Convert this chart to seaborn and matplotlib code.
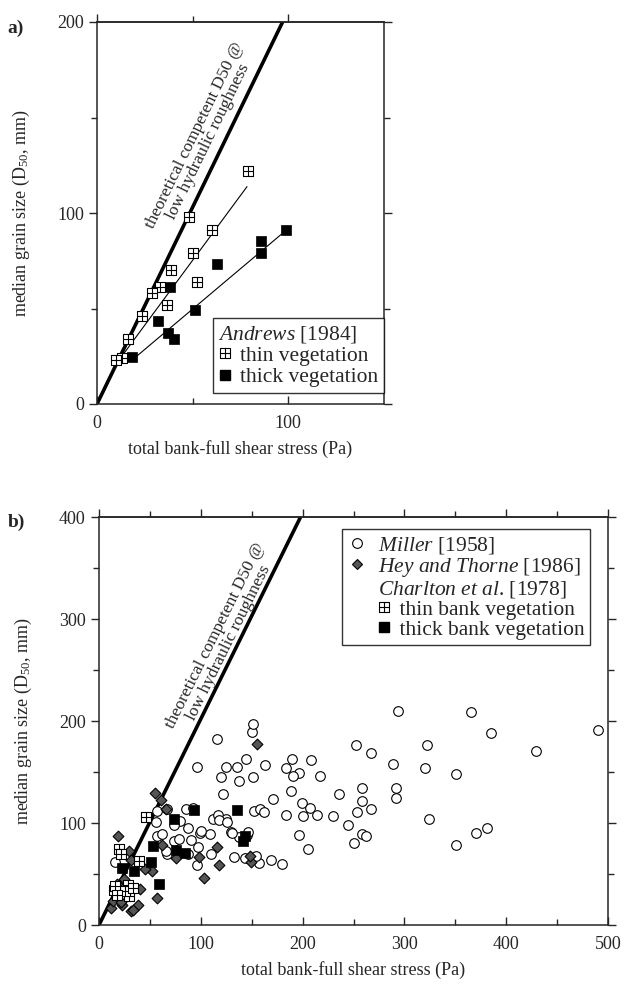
import numpy as np
import matplotlib
matplotlib.use("Agg")
import matplotlib.pyplot as plt
import seaborn as sns
from matplotlib.path import Path
from matplotlib.lines import Line2D
from matplotlib.legend_handler import HandlerLine2D

# ---------------- data ----------------
# panel a: Andrews [1984]
andrews_thin_x = [78.7, 47.9, 59.9, 50.0, 38.9, 32.8, 28.9, 52.3, 36.4, 23.5, 16.2, 13.2, 10.1]
andrews_thin_y = [122.1, 98.1, 91.1, 78.9, 70.2, 61.1, 58.0, 63.8, 51.9, 46.2, 34.0, 24.0, 23.2]
andrews_thick_x = [99.0, 85.5, 85.9, 62.5, 38.0, 51.2, 31.7, 37.3, 40.2, 18.5]
andrews_thick_y = [91.1, 85.4, 79.3, 73.2, 61.1, 49.1, 43.7, 37.1, 34.1, 24.4]
thin_fit_x = [10.1, 78.4]
thin_fit_y = [21.1, 113.8]
thick_fit_x = [20.6, 99.0]
thick_fit_y = [24.9, 91.1]
theory_a_x = [0, 97]
theory_a_y = [0, 200]

# panel b
miller_x = [96, 116, 150, 151, 125, 136, 144, 163, 120, 138, 151, 122, 171, 190, 208, 184, 196, 191,
            217, 189, 236, 258, 258, 267, 253, 199, 207, 184, 200, 214, 230, 245, 258, 196, 152, 158,
            162, 112, 117, 125, 99, 109, 130, 138, 145, 252, 267,
            294, 365, 385, 322, 429, 289, 320, 351, 292, 292, 324, 381, 370, 351, 490,
            250, 262, 205, 180, 157, 169, 133, 143, 154, 97, 110, 87, 67, 90, 74, 57, 80, 74,
            87, 100, 118, 126, 131, 146, 85, 57, 67, 92, 16, 96, 79, 66, 62, 56]
miller_y = [155, 182, 189, 197, 155, 155, 163, 157, 145, 141, 145, 128, 124, 163, 162, 154, 149, 146,
            146, 131, 128, 134, 122, 114, 111, 120, 115, 108, 107, 108, 107, 98, 89, 88, 112, 114,
            111, 104, 108, 104, 90, 89, 91, 86, 88, 176, 169,
            210, 209, 188, 176, 171, 158, 154, 148, 134, 125, 104, 95, 90, 78, 191,
            80, 87, 75, 60, 61, 64, 67, 66, 68, 76, 70, 70, 70, 83, 82, 87, 102, 98,
            95, 92, 103, 101, 90, 91, 114, 112, 114, 115, 62, 59, 84, 73, 89, 101]
hey_x = [155, 55, 61, 66, 19, 116, 118, 103, 57, 149, 148, 76, 98, 12, 23, 31, 38, 14, 52, 29, 31,
         62, 25, 40, 45, 18, 22, 33]
hey_y = [177, 129, 123, 114, 87, 76, 59, 46, 26, 62, 68, 66, 67, 17, 20, 14, 20, 24, 53, 73, 64,
         78, 45, 35, 55, 40, 23, 15]
charlton_thin_x = [46, 20, 22, 39, 15, 28, 29, 26, 16, 33, 18]
charlton_thin_y = [106, 75, 70, 63, 34, 39, 28, 33, 38, 36, 29]
charlton_thick_x = [93, 136, 74, 53, 76, 84, 51, 23, 34, 59, 143, 141]
charlton_thick_y = [113, 113, 104, 77, 74, 71, 62, 56, 53, 40, 87, 82]
theory_b_x = [0, 198]
theory_b_y = [0, 400]

# ---------------- style ----------------
sns.set_style("ticks")
plt.rcParams["font.family"] = ["Liberation Serif", "DejaVu Serif"]
plt.rcParams["mathtext.fontset"] = "custom"
plt.rcParams["mathtext.rm"] = "Liberation Serif"
plt.rcParams["mathtext.it"] = "Liberation Serif:italic"
plt.rcParams["mathtext.bf"] = "Liberation Serif:bold"
plt.rcParams["axes.linewidth"] = 1.1

FS = 13
LFS = 15.5

# hatched square marker (square with a cross)
hatch_sq = Path(
    [(-1, -1), (1, -1), (1, 1), (-1, 1), (-1, -1), (0, -1), (0, 1), (-1, 0), (1, 0)],
    [Path.MOVETO, Path.LINETO, Path.LINETO, Path.LINETO, Path.CLOSEPOLY,
     Path.MOVETO, Path.LINETO, Path.MOVETO, Path.LINETO])

fig = plt.figure(figsize=(6.28, 9.99), dpi=100)
axA = fig.add_axes([97 / 628, 1 - 404 / 999, 287 / 628, 382 / 999])
axB = fig.add_axes([99 / 628, 1 - 925 / 999, 509 / 628, 408 / 999])


def style_axes(ax, xmaj, xmin):
    for s in ax.spines.values():
        s.set_visible(True)
        s.set_linewidth(1.1)
    ax.tick_params(axis="x", which="both", bottom=True, top=False, direction="in",
                   labelsize=FS, width=1.0, pad=8)
    ax.tick_params(axis="y", which="both", left=True, right=True, direction="out",
                   labelsize=FS, width=1.0)
    ax.tick_params(which="major", length=6)
    ax.tick_params(which="minor", length=4)
    sec = ax.secondary_xaxis("top")
    sec.set_xticks(xmaj)
    sec.set_xticks(xmin, minor=True)
    sec.tick_params(which="both", direction="out", labeltop=False, width=1.0)
    sec.tick_params(which="major", length=6)
    sec.tick_params(which="minor", length=4)
    sec.spines["top"].set_linewidth(1.1)


# ---------------- panel a ----------------
axA.set_xlim(0, 150)
axA.set_ylim(0, 200)
sns.lineplot(x=theory_a_x, y=theory_a_y, ax=axA, color="black", lw=2.6)
sns.lineplot(x=thin_fit_x, y=thin_fit_y, ax=axA, color="black", lw=0.8)
sns.lineplot(x=thick_fit_x, y=thick_fit_y, ax=axA, color="black", lw=0.8)
sns.scatterplot(x=andrews_thin_x, y=andrews_thin_y, ax=axA, marker=hatch_sq, s=55,
                color="white", edgecolor="black", linewidth=0.8, zorder=3)
sns.scatterplot(x=andrews_thick_x, y=andrews_thick_y, ax=axA, marker="s", s=60,
                color="black", edgecolor="black", linewidth=0.5, zorder=3)
axA.set_xticks([0, 100])
axA.set_xticks([50], minor=True)
axA.set_yticks([0, 100, 200])
axA.set_yticks([50, 150], minor=True)
style_axes(axA, [0, 100], [50])
axA.set_xlabel("total bank-full shear stress (Pa)", fontsize=FS, labelpad=6)
axA.set_ylabel("median grain size (D$_{50}$, mm)", fontsize=FS, labelpad=18)

p0 = axA.transData.transform((theory_a_x[0], theory_a_y[0]))
p1 = axA.transData.transform((theory_a_x[1], theory_a_y[1]))
angA = np.degrees(np.arctan2(p1[1] - p0[1], p1[0] - p0[0]))
axA.text(54.5, 139, "theoretical competent D50 @\nlow hydraulic roughness", rotation=angA,
         rotation_mode="anchor", ha="center", va="center", multialignment="center",
         fontsize=12.5, linespacing=0.95)

hA = [Line2D([], [], ls="none", marker=hatch_sq, markersize=7.5, markerfacecolor="white",
             markeredgecolor="black", markeredgewidth=0.8),
      Line2D([], [], ls="none", marker="s", markersize=7.5, markerfacecolor="black",
             markeredgecolor="black")]
legA = axA.legend(hA, ["thin vegetation", "thick vegetation"], title="$\\it{Andrews}$ [1984]",
                  title_fontsize=LFS, fontsize=LFS, loc="lower right", bbox_to_anchor=(1.0, 0.03),
                  borderaxespad=0, frameon=True, fancybox=False, edgecolor="black",
                  handlelength=0.7, handletextpad=0.35, labelspacing=0.05, borderpad=0.25,
                  alignment="left")
legA.get_frame().set_linewidth(1.0)
legA._legend_box.sep = 1

# ---------------- panel b ----------------
axB.set_xlim(0, 500)
axB.set_ylim(0, 400)
sns.lineplot(x=theory_b_x, y=theory_b_y, ax=axB, color="black", lw=2.6)
sns.scatterplot(x=miller_x, y=miller_y, ax=axB, marker="o", s=48, color="white",
                edgecolor="black", linewidth=0.8, zorder=3)
sns.scatterplot(x=hey_x, y=hey_y, ax=axB, marker="D", s=30, color="#555555",
                edgecolor="black", linewidth=0.8, zorder=4)
sns.scatterplot(x=charlton_thin_x, y=charlton_thin_y, ax=axB, marker=hatch_sq, s=55,
                color="white", edgecolor="black", linewidth=0.8, zorder=5)
sns.scatterplot(x=charlton_thick_x, y=charlton_thick_y, ax=axB, marker="s", s=60,
                color="black", edgecolor="black", linewidth=0.5, zorder=5)
axB.set_xticks(np.arange(0, 501, 100))
axB.set_xticks(np.arange(50, 500, 100), minor=True)
axB.set_yticks(np.arange(0, 401, 100))
axB.set_yticks(np.arange(50, 400, 100), minor=True)
style_axes(axB, list(np.arange(0, 501, 100)), list(np.arange(50, 500, 100)))
axB.set_xlabel("total bank-full shear stress (Pa)", fontsize=FS, labelpad=6)
axB.set_ylabel("median grain size (D$_{50}$, mm)", fontsize=FS, labelpad=18)

q0 = axB.transData.transform((theory_b_x[0], theory_b_y[0]))
q1 = axB.transData.transform((theory_b_x[1], theory_b_y[1]))
angB = np.degrees(np.arctan2(q1[1] - q0[1], q1[0] - q0[0]))
axB.text(121, 280, "theoretical competent D50 @\nlow hydraulic roughness", rotation=angB,
         rotation_mode="anchor", ha="center", va="center", multialignment="center",
         fontsize=12.5, linespacing=0.95)

h_miller = Line2D([], [], ls="none", marker="o", markersize=7, markerfacecolor="white",
                  markeredgecolor="black", markeredgewidth=0.8)
h_hey = Line2D([], [], ls="none", marker="D", markersize=5.5, markerfacecolor="#555555",
               markeredgecolor="black", markeredgewidth=0.8)
h_blank = Line2D([], [], ls="none")
h_thin = Line2D([], [], ls="none", marker=hatch_sq, markersize=7.5, markerfacecolor="white",
                markeredgecolor="black", markeredgewidth=0.8)
h_thick = Line2D([], [], ls="none", marker="s", markersize=7, markerfacecolor="black",
                 markeredgecolor="black")
labsB = ["$\\it{Miller}$ [1958]", "$\\it{Hey\\ and\\ Thorne}$ [1986]",
         "$\\it{Charlton\\ et\\ al}$. [1978]", "    thin bank vegetation",
         "    thick bank vegetation"]
legB = axB.legend([h_miller, h_hey, h_blank, h_thin, h_thick], labsB, fontsize=LFS,
                  loc="upper right", bbox_to_anchor=(0.965, 0.97), borderaxespad=0,
                  frameon=True, fancybox=False, edgecolor="black", handlelength=0.9,
                  handletextpad=0.55, labelspacing=0.0, borderpad=0.25,
                  handler_map={h_thin: HandlerLine2D(xpad=2.5, numpoints=1),
                               h_thick: HandlerLine2D(xpad=2.5, numpoints=1)})
legB.get_frame().set_linewidth(1.0)

fig.text(16 / 628, 1 - 28 / 999, "a)", fontsize=14, fontweight="bold", ha="center", va="center")
fig.text(16 / 628, 1 - 522 / 999, "b)", fontsize=14, fontweight="bold", ha="center", va="center")

fig.savefig("out.png", dpi=100)
